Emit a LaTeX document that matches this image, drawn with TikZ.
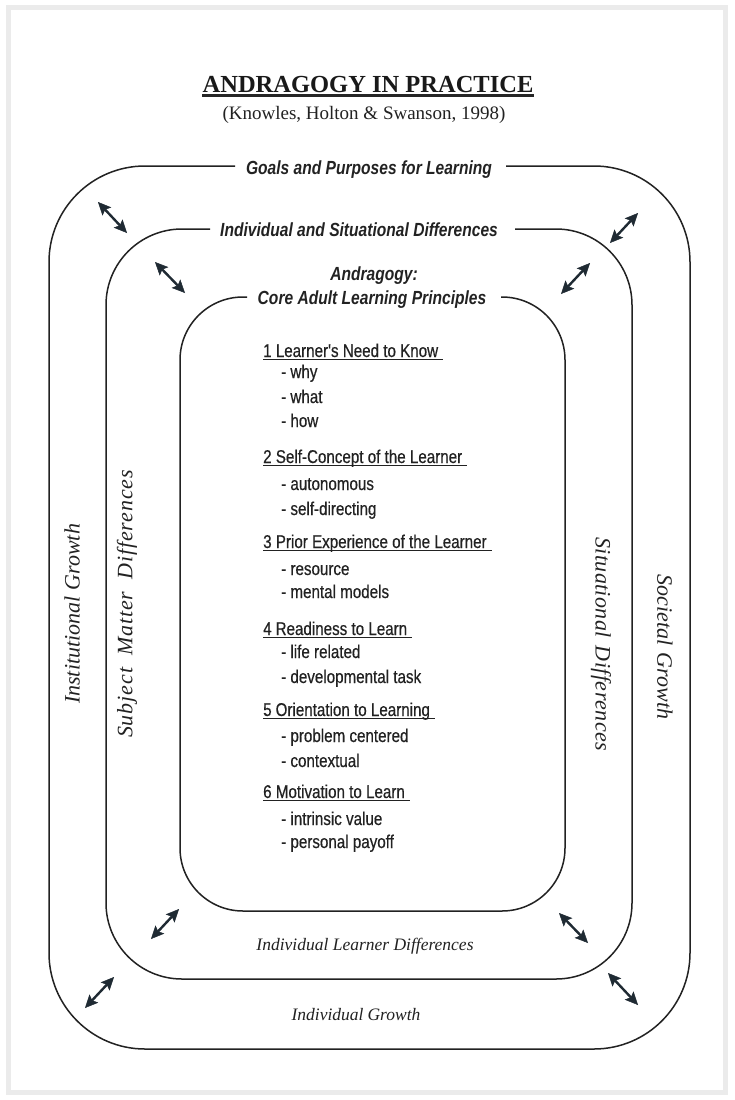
\documentclass[tikz,border=0pt]{standalone}
\usepackage{fontspec}
\setmainfont{Liberation Serif}
\newfontfamily\narrowsans[FakeStretch=0.82]{Liberation Sans}
\newfontfamily\narrowbody[FakeStretch=0.82,FakeBold=0.5]{Liberation Sans}
\usetikzlibrary{arrows.meta}
\definecolor{linec}{HTML}{222222}
\definecolor{textc}{HTML}{222222}
\definecolor{arrowc}{HTML}{1F2A33}
\definecolor{framec}{HTML}{EBEBEB}
\begin{document}
\begin{tikzpicture}[x=1pt,y=-1pt,
  ring/.style={line width=1.5pt, draw=linec, rounded corners=#1},
  link/.style={{Stealth[length=13pt,width=12pt,inset=2.5pt,fill=arrowc,line width=0.5pt]}-{Stealth[length=13pt,width=12pt,inset=2.5pt,fill=arrowc,line width=0.5pt]}, line width=2.4pt, draw=arrowc},
  body/.style={anchor=base west, inner sep=0pt, text=textc, font=\narrowbody\fontsize{18.5}{22}\selectfont},
  uline/.style={line width=1.1pt, draw=textc},
  toplab/.style={anchor=base, inner sep=0pt, text=textc, font=\narrowsans\bfseries\itshape\fontsize{19}{22}\selectfont},
  sidelab/.style={inner sep=0pt, text=textc, font=\itshape\fontsize{22}{26}\selectfont},
  botlab/.style={anchor=base, inner sep=0pt, text=textc, font=\itshape\fontsize{17.5}{20}\selectfont}
]
\useasboundingbox (0,0) rectangle (734,1100);
\fill[white] (0,0) rectangle (734,1100);
\draw[draw=framec, line width=5pt] (8.5,7.5) rectangle (725.5,1092.5);

% title
\node[anchor=base, inner sep=0pt, font=\bfseries\fontsize{24.5}{28}\selectfont, text=black!90] (title) at (368,92) {ANDRAGOGY IN PRACTICE};
\draw[line width=2.2pt, draw=black!85] ([yshift=-3.5pt]title.base west) -- ([yshift=-3.5pt]title.base east);
\node[anchor=base, inner sep=0pt, font=\fontsize{19}{22}\selectfont, text=textc] (sub) at (364,119) {(Knowles, Holton \& Swanson, 1998)};

% rings
\draw[ring=96] (506,166) -- (690,166) -- (690,1049) -- (49,1049) -- (49,166) -- (235,166);
\draw[ring=76] (515,229) -- (632,229) -- (632,979) -- (106,979) -- (106,229) -- (210,229);
\draw[ring=63] (501,297) -- (565,297) -- (565,911) -- (180,911) -- (180,297) -- (247,297);

% top labels
\node[toplab] (goals) at (369,174) {Goals and Purposes for Learning};
\node[toplab] (isd) at (359,236) {Individual and Situational Differences};
\node[toplab] (andr) at (374,280) {Andragogy:};
\node[toplab] (core) at (372,304) {Core Adult Learning Principles};

% side labels
\node[sidelab, rotate=90] (inst) at (72,614) {Institutional\hspace{6pt}Growth};
\node[sidelab, rotate=90] (subj) at (127,604) {\addfontfeature{LetterSpace=4}Subject\hspace{12pt}Matter\hspace{12pt}Differences};
\node[sidelab, rotate=-90] (situ) at (601,644) {\addfontfeature{LetterSpace=2}Situational\hspace{8pt}Differences};
\node[sidelab, rotate=-90] (soci) at (665,647) {Societal\hspace{7pt}Growth};

% bottom labels
\node[botlab] (ild) at (365,950) {Individual Learner Differences};
\node[botlab] (ig) at (356,1020) {Individual\hspace{4pt}Growth};

% arrows
\coordinate (a1s) at (98,202);  \coordinate (a1e) at (127,233);
\coordinate (a2s) at (155,262); \coordinate (a2e) at (185,293);
\coordinate (a3s) at (638,213); \coordinate (a3e) at (610,243);
\coordinate (a4s) at (590,263); \coordinate (a4e) at (561,294);
\coordinate (a5s) at (179,909); \coordinate (a5e) at (151,939);
\coordinate (a6s) at (559,913); \coordinate (a6e) at (588,943);
\coordinate (a7s) at (114,977); \coordinate (a7e) at (85,1008);
\coordinate (a8s) at (608,973); \coordinate (a8e) at (638,1005);
\foreach \i in {1,...,8} { \draw[link] (a\i s) -- (a\i e); }

% body text
\node[body] (h1) at (263,357) {1 Learner's Need to Know};
\draw[uline] ([yshift=-2.5pt]h1.base west) -- ([xshift=5pt,yshift=-2.5pt]h1.base east);
\node[body] (i11) at (281,378) {- why};
\node[body] (i12) at (281,403) {- what};
\node[body] (i13) at (281,427) {- how};

\node[body] (h2) at (263,463) {2 Self-Concept of the Learner};
\draw[uline] ([yshift=-2.5pt]h2.base west) -- ([xshift=5pt,yshift=-2.5pt]h2.base east);
\node[body] (i21) at (281,490) {- autonomous};
\node[body] (i22) at (281,515) {- self-directing};

\node[body] (h3) at (263,548) {3 Prior Experience of the Learner};
\draw[uline] ([yshift=-2.5pt]h3.base west) -- ([xshift=5pt,yshift=-2.5pt]h3.base east);
\node[body] (i31) at (281,575) {- resource};
\node[body] (i32) at (281,598) {- mental models};

\node[body] (h4) at (263,635) {4\hspace{4pt}Readiness to Learn};
\draw[uline] ([yshift=-2.5pt]h4.base west) -- ([xshift=5pt,yshift=-2.5pt]h4.base east);
\node[body] (i41) at (281,658) {- life related};
\node[body] (i42) at (281,683) {- developmental task};

\node[body] (h5) at (263,716) {5\hspace{4pt}Orientation to Learning};
\draw[uline] ([yshift=-2.5pt]h5.base west) -- ([xshift=5pt,yshift=-2.5pt]h5.base east);
\node[body] (i51) at (281,742) {- problem centered};
\node[body] (i52) at (281,767) {- contextual};

\node[body] (h6) at (263,798) {6 Motivation to Learn};
\draw[uline] ([yshift=-2.5pt]h6.base west) -- ([xshift=5pt,yshift=-2.5pt]h6.base east);
\node[body] (i61) at (281,825) {- intrinsic value};
\node[body] (i62) at (281,848) {- personal payoff};
\end{tikzpicture}
\end{document}
